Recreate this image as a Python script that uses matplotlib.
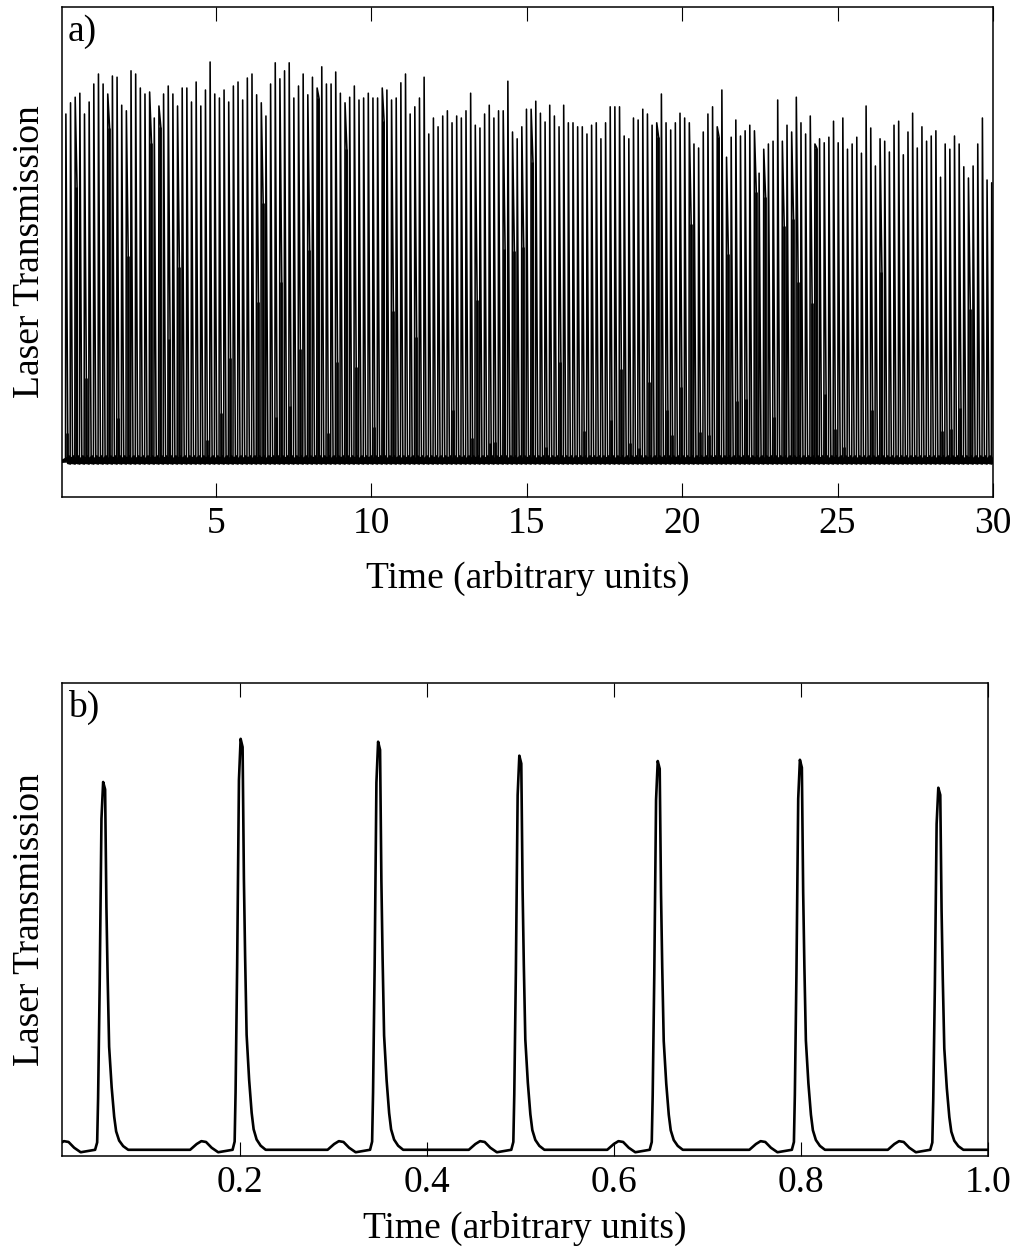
import numpy as np
import matplotlib.pyplot as plt

plt.rcParams['font.family'] = ['Liberation Serif', 'DejaVu Serif']

# ---- panel a) : one maximum per round trip (max = 100)
peak_top_a = [
    87, 89.8, 91.2, 92.2, 87, 90, 94.5, 97, 94.5, 92, 96.5, 96.2, 89.2, 87.8, 97.8, 97, 93.5, 92, 92.5, 86,
    89, 92, 94, 92, 89, 93.5, 93.5, 90, 95, 89, 93, 100, 92, 91, 93, 90, 94, 95, 90.5, 96,
    97, 91.8, 89.8, 86.5, 94.5, 99.8, 95.8, 97.8, 99.8, 91, 94, 97, 91.8, 96.2, 93.5, 98.8, 94.5, 94.5, 97.5, 92.2,
    89.8, 91.2, 94, 90.5, 91, 92.2, 91, 91, 93.5, 93, 90.5, 91, 94.8, 97, 87, 88.8, 91, 96.2, 82, 86,
    83.8, 86.5, 87.8, 84.8, 86.5, 86, 87.8, 92.2, 84.2, 83.5, 87, 89.2, 86, 87.8, 87.8, 95.2, 82.5, 80.8, 83.8, 88.2,
    88.2, 90.2, 87.2, 85, 89.2, 86.5, 83.8, 89.2, 84.8, 84.8, 83.8, 83.8, 82, 84.2, 84.8, 80.8, 84.8, 88.8, 88.8,
    88.8, 81.5, 80.8, 86, 85.5, 88.2, 87, 84.2, 84.8, 92, 84.8, 83, 84.8, 87.2, 86, 84.8, 79.5, 78.5, 82.5, 87,
    88.8, 83.8, 93, 76.2, 81.2, 85.5, 81.5, 82.8, 84.2, 82.8, 72.2, 78.2, 79.5, 80.2, 90.5, 80.2, 84.2, 82.5, 91.2, 84.8,
    82, 86.5, 79.5, 80.8, 79.8, 81.2, 85.2, 79.8, 86, 78.2, 79.5, 81.2, 77.2, 89, 83.5, 74, 80.8, 80.2, 77.5, 84.2,
    85.2, 76.8, 82.5, 87.2, 78.5, 83.8, 80.2, 81.5, 82.8, 71.2, 79.5, 78.2, 81.5, 79.5, 73.8, 71, 74, 79.5, 86, 70.5,
    69.8,
]
# second sample on the falling edge, where it stands clearly above the baseline
dark_index_a = [0, 2, 4, 9, 11, 13, 18, 20, 22, 24, 30, 33, 35, 41, 42, 45, 46, 48, 50, 52,
                54, 56, 58, 60, 62, 66, 68, 70, 75, 83, 87, 88, 91, 92, 94, 96, 98, 100, 103, 106,
                111, 117, 119, 121, 123, 125, 127, 129, 130, 132, 134, 136, 138, 140, 142, 144, 146, 148, 150, 152,
                154, 156, 157, 160, 161, 163, 165, 167, 173, 175, 188, 190, 192, 194]
dark_level_a = [7.2, 68.8, 21, 83.5, 11, 51.5, 79.8, 83.8, 30.8, 48.8, 5.5, 12.2, 26, 40, 64.8, 11.2, 45, 14, 28.2, 53,
                91, 7.2, 25, 78.2, 23.8, 8.8, 85.2, 37.8, 31.2, 13, 6, 40.5, 4.8, 5, 53.2, 52.8, 53.8, 75, 3.8, 25,
                7.8, 10.5, 23.2, 4.8, 3.5, 20, 81.2, 13, 6.8, 18.8, 59.5, 7.5, 6.8, 81.2, 52, 15.2, 15.8, 67.5, 66.2, 11.2,
                59, 60.8, 45, 39.8, 78.5, 17, 8.2, 3.8, 13, 47.5, 7.8, 8.2, 13.5, 38.2]
small_level_a = 3.0
first_peak_a = 0.17
period_a = 0.1497
# ripple of the trace between two maxima (time after the maximum, level)
ripple_dt = [0.065, 0.08, 0.095, 0.11, 0.125, 0.14]
ripple_level = [0.9, -0.2, 1.3, 0.1, 0.8, -0.3]

# ---- panel b) : seven round trips
peak_time_b = [0.054, 0.201, 0.348, 0.499, 0.647, 0.799, 0.947]
peak_top_b = [89.5, 100, 99.3, 95.9, 94.6, 94.9, 88.1]
# shape of one transmission peak (time offset, fraction of the maximum)
profile_dt = [-0.0086, -0.0064, -0.0054, -0.0037, -0.0018, 0.0, 0.0021, 0.0035,
              0.0048, 0.0064, 0.0091, 0.0118, 0.0139, 0.0171, 0.0214, 0.0268]
profile_rel = [0.0, 0.02, 0.14, 0.45, 0.9, 1.0, 0.98, 0.66,
               0.47, 0.28, 0.17, 0.09, 0.05, 0.025, 0.01, 0.0]
# small bump half way between two peaks
bump_dt = [-0.014, -0.007, -0.002, 0.003, 0.009, 0.016]
bump_level = [0.0, 1.4, 2.1, 1.9, 0.5, -0.6]
bump_shift = -0.040

fig = plt.figure(figsize=(10.13, 12.49), dpi=100)
ax1 = fig.add_axes([0.0612, 0.6021, 0.919, 0.3923])
ax2 = fig.add_axes([0.0612, 0.0745, 0.914, 0.3787])

# panel a : spikes, dark falling edges, then the thick baseline band
dark_a = dict(zip(dark_index_a, dark_level_a))
ta, ya = [0.0], [0.0]
tr, yr = [0.0], [0.0]
for k, h in enumerate(peak_top_a):
    t = first_peak_a + k * period_a
    h2 = dark_a.get(k, small_level_a)
    ta += [t - 0.012, t, t + 0.06, t + 0.065]
    ya += [0.0, h, h2, 0.0]
    tr += [t + d for d in ripple_dt]
    yr += ripple_level
ax1.plot(ta, ya, color='black', lw=1.15)
t_dark = [first_peak_a + k * period_a + 0.04 for k in dark_index_a]
ax1.vlines(t_dark, 0, dark_level_a, color='black', lw=1.9)
ax1.plot(tr, yr, color='black', lw=2.4)

# panel b trace
tb, yb = [0.0], [0.3]
for t, h in zip(peak_time_b, peak_top_b):
    tb += [t + bump_shift + d for d in bump_dt]
    yb += bump_level
    tb += [t + d for d in profile_dt]
    yb += [h * r for r in profile_rel]
tb.append(1.0)
yb.append(0.0)
ax2.plot(tb, yb, color='black', lw=1.9)

for ax, lab in [(ax1, 'a)'), (ax2, 'b)')]:
    ax.set_yticks([])
    ax.tick_params(axis='x', direction='in', top=True, length=10, width=0.8,
                   labelsize=27, pad=7)
    for s in ax.spines.values():
        s.set_linewidth(1.1)
    ax.set_ylabel('Laser Transmission', fontsize=27, labelpad=11)
    ax.text(0.006, 0.985, lab, transform=ax.transAxes, fontsize=27,
            ha='left', va='top')

ax1.set_xlim(0.045, 30)
ax1.set_ylim(-8.75, 113.75)
ax1.set_xticks([5, 10, 15, 20, 25, 30])
ax1.set_xlabel('Time (arbitrary units)', fontsize=27, labelpad=14)

ax2.set_xlim(0.01, 1.0)
ax2.set_ylim(-1.5, 113.6)
ax2.set_xticks([0.2, 0.4, 0.6, 0.8, 1.0])
ax2.set_xticklabels(['0.2', '0.4', '0.6', '0.8', '1.0'])
ax2.set_xlabel('Time (arbitrary units)', fontsize=27, labelpad=8)

fig.savefig('out.png', dpi=100)
